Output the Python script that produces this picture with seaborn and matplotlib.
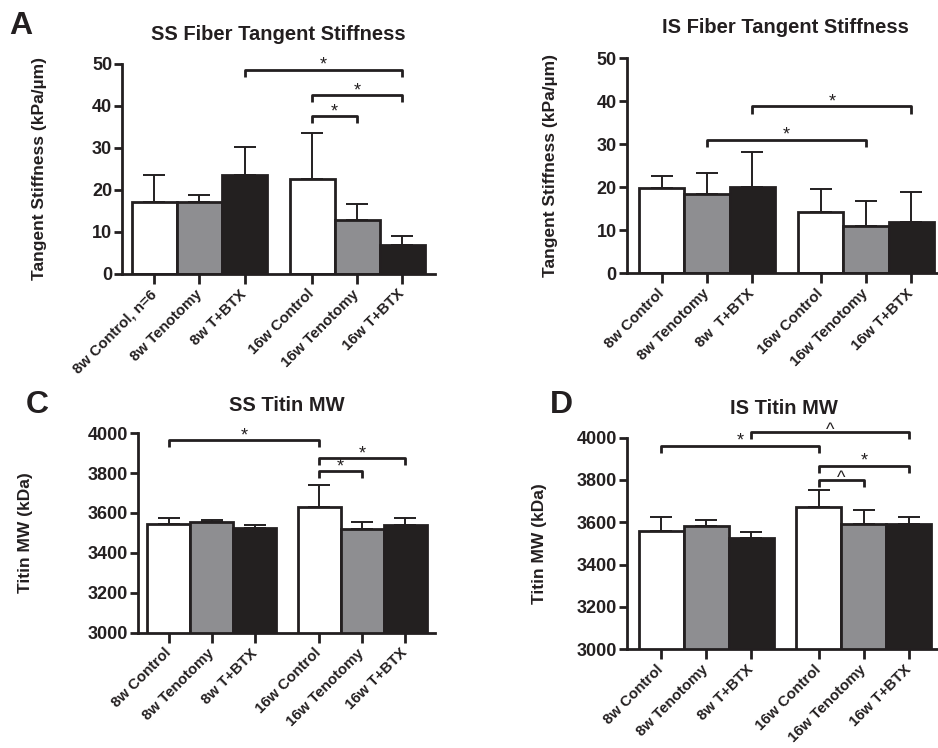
import numpy as np
import pandas as pd
import matplotlib
matplotlib.use("Agg")
import matplotlib.pyplot as plt
import seaborn as sns

# pozitii: doua grupe (8w, 16w) cu spatiu intre ele
pozitii = [0, 1, 2, 3.5, 4.5, 5.5]
etichete = ["8w Control", "8w Tenotomy", "8w T+BTX", "16w Control", "16w Tenotomy", "16w T+BTX"]
etichete_a = ["8w Control, n=6", "8w Tenotomy", "8w T+BTX", "16w Control", "16w Tenotomy", "16w T+BTX"]
etichete_b = ["8w Control", "8w Tenotomy", "8w  T+BTX", "16w Control", "16w Tenotomy", "16w T+BTX"]
culori = ["#ffffff", "#8d8e92", "#231f20", "#ffffff", "#8d8e92", "#231f20"]

# A - SS fiber tangent stiffness
ss_stiff = [17.1, 17.1, 23.4, 22.6, 12.9, 6.8]
ss_stiff_err = [6.5, 1.7, 6.7, 10.9, 3.8, 2.3]
ss_stiff_sig = [(2, 5, 48.5, "*"), (3, 5, 42.5, "*"), (3, 4, 37.5, "*")]

# B - IS fiber tangent stiffness
is_stiff = [19.7, 18.4, 20.1, 14.3, 11.0, 11.9]
is_stiff_err = [2.8, 4.9, 8.1, 5.2, 5.7, 6.9]
is_stiff_sig = [(1, 4, 31.0, "*"), (2, 5, 38.8, "*")]

# C - SS titin MW
ss_titin = [3545, 3553, 3523, 3632, 3520, 3540]
ss_titin_err = [32, 12, 15, 109, 35, 37]
ss_titin_sig = [(0, 3, 3963, "*"), (3, 5, 3875, "*"), (3, 4, 3808, "*")]

# D - IS titin MW
is_titin = [3560, 3582, 3524, 3670, 3591, 3590]
is_titin_err = [63, 31, 31, 82, 66, 36]
is_titin_sig = [(0, 3, 3961, "*"), (2, 5, 4025, "^"), (3, 5, 3866, "*"), (3, 4, 3799, "^")]

sns.set_style("ticks")
plt.rcParams["font.family"] = ["Liberation Sans", "DejaVu Sans"]
plt.rcParams["font.weight"] = "bold"
negru = "#231f20"

fig = plt.figure(figsize=(9.38, 7.48), dpi=100)


def panou(rect, valori, erori, sig, etich, titlu, ylabel, ylim, yticks, xlim, drop, ylab_x, pad_t):
    ax = fig.add_axes(rect)
    df = pd.DataFrame({"poz": pozitii, "val": valori, "grup": etich})
    sns.barplot(data=df, x="poz", y="val", hue="grup", palette=dict(zip(etich, culori)),
                native_scale=True, width=1.0, dodge=False, legend=False,
                edgecolor=negru, linewidth=2.0, ax=ax)
    ax.errorbar(pozitii, valori, yerr=[np.zeros(len(erori)), erori], fmt="none",
                ecolor=negru, elinewidth=1.4, capsize=8, capthick=1.4, zorder=1)
    for i, j, y, s in sig:
        x1, x2 = pozitii[i], pozitii[j]
        ax.plot([x1, x1, x2, x2], [y - drop, y, y, y - drop], color=negru, lw=2.0,
                clip_on=False, solid_capstyle="butt")
        dy = 0 if s == "*" else -2
        ax.annotate(s, ((x1 + x2) / 2, y), xytext=(0, dy), textcoords="offset points",
                    ha="center", va="baseline", fontsize=13, fontweight="normal",
                    color=negru, annotation_clip=False)
    ax.set_xlim(*xlim)
    ax.set_ylim(*ylim)
    ax.set_yticks(yticks)
    ax.set_xticks(pozitii)
    ax.set_xticklabels(etich, rotation=45, ha="right", va="center", rotation_mode="anchor",
                       fontsize=10.8, fontweight="bold", color=negru)
    ax.tick_params(axis="y", labelsize=13, colors=negru, width=2, length=6, pad=1)
    ax.tick_params(axis="x", colors=negru, width=2, length=7, pad=6)
    for lab in ax.get_yticklabels():
        lab.set_fontweight("bold")
    ax.set_xlabel("")
    ax.set_ylabel(ylabel, fontsize=12.5, fontweight="bold", color=negru)
    ax.yaxis.set_label_coords(ylab_x, 0.5)
    ax.set_title(titlu, fontsize=14.5, fontweight="bold", color=negru, pad=pad_t)
    sns.despine(ax=ax)
    for sp in ["left", "bottom"]:
        ax.spines[sp].set_linewidth(2.0)
        ax.spines[sp].set_color(negru)
    return ax


ax_a = panou([0.130, 0.634, 0.334, 0.281], ss_stiff, ss_stiff_err, ss_stiff_sig, etichete_a,
             "SS Fiber Tangent Stiffness", "Tangent Stiffness (kPa/µm)", (0, 50),
             range(0, 51, 10), (-0.72, 6.23), 1.7, -0.24, 17)
ax_b = panou([0.668, 0.635, 0.339, 0.287], is_stiff, is_stiff_err, is_stiff_sig, etichete_b,
             "IS Fiber Tangent Stiffness", "Tangent Stiffness (kPa/µm)", (0, 50),
             range(0, 51, 10), (-0.77, 6.23), 1.7, -0.217, 18)
ax_c = panou([0.147, 0.154, 0.317, 0.267], ss_titin, ss_titin_err, ss_titin_sig, etichete,
             "SS Titin MW", "Titin MW (kDa)", (3000, 4000),
             range(3000, 4001, 200), (-0.72, 6.2), 35, -0.354, 16)
ax_d = panou([0.668, 0.132, 0.336, 0.283], is_titin, is_titin_err, is_titin_sig, etichete,
             "IS Titin MW", "Titin MW (kDa)", (3000, 4000),
             range(3000, 4001, 200), (-0.77, 6.23), 33, -0.251, 17)

# literele panourilor
fig.text(9 / 938, 1 - 34 / 748, "A", fontsize=23, fontweight="bold", color=negru)
fig.text(26 / 938, 1 - 413 / 748, "C", fontsize=23, fontweight="bold", color=negru)
fig.text(550 / 938, 1 - 413 / 748, "D", fontsize=23, fontweight="bold", color=negru)

fig.savefig("out.png", dpi=100)
